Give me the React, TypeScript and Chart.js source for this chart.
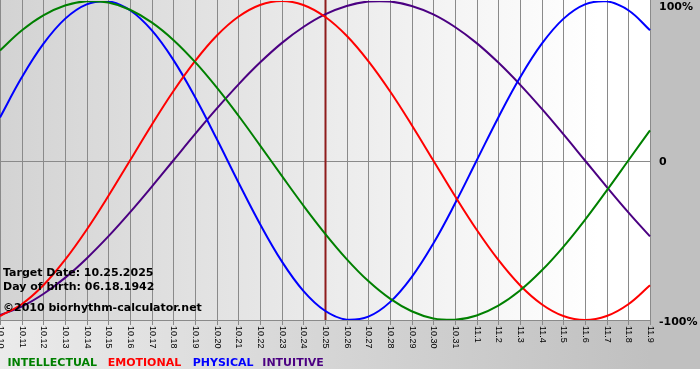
import { useEffect, useRef } from "react";
import { Chart, registerables } from "chart.js";

Chart.register(...registerables);

const dayLabels = [
  "10.10", "10.11", "10.12", "10.13", "10.14", "10.15", "10.16", "10.17", "10.18", "10.19",
  "10.20", "10.21", "10.22", "10.23", "10.24", "10.25", "10.26", "10.27", "10.28", "10.29",
  "10.30", "10.31", "11.1", "11.2", "11.3", "11.4", "11.5", "11.6", "11.7", "11.8", "11.9",
];

const intellectual = [
  69.0, 81.5, 91.0, 97.2, 99.9, 99.0, 94.5, 86.6, 75.6, 61.8, 45.8, 28.2, 9.5, -9.5, -28.2,
  -45.8, -61.8, -75.6, -86.6, -94.5, -99.0, -99.9, -97.2, -91.0, -81.5, -69.0, -54.1, -37.2,
  -18.9, 0, 18.9,
];
const emotional = [
  -97.5, -90.1, -78.2, -62.3, -43.4, -22.3, 0, 22.3, 43.4, 62.3, 78.2, 90.1, 97.5, 100, 97.5,
  90.1, 78.2, 62.3, 43.4, 22.3, 0, -22.3, -43.4, -62.3, -78.2, -90.1, -97.5, -100, -97.5,
  -90.1, -78.2,
];
const physical = [
  27.0, 52.0, 73.1, 88.8, 97.9, 99.8, 94.2, 81.7, 63.1, 39.8, 13.6, -13.6, -39.8, -63.1, -81.7,
  -94.2, -99.8, -97.9, -88.8, -73.1, -52.0, -27.0, 0, 27.0, 52.0, 73.1, 88.8, 97.9, 99.8, 94.2,
  81.7,
];
const intuitive = [
  -96.9, -91.6, -83.7, -73.6, -61.4, -47.6, -32.5, -16.5, 0, 16.5, 32.5, 47.6, 61.4, 73.6, 83.7,
  91.6, 96.9, 99.7, 99.7, 96.9, 91.6, 83.7, 73.6, 61.4, 47.6, 32.5, 16.5, 0, -16.5, -32.5, -47.6,
];

const seriesNames = ["INTELLECTUAL", "EMOTIONAL", "PHYSICAL", "INTUITIVE"];
const seriesColors = ["#008000", "#ff0000", "#0000ff", "#4b0082"];
const seriesData = [intellectual, emotional, physical, intuitive];

const targetLabel = "10.25";
const infoLines = [
  "Target Date: 10.25.2025",
  "Day of birth: 06.18.1942",
  "\u00a92010 biorhythm-calculator.net",
];
const yTickValues = [100, 0, -100];
const yTickLabels = ["100%", "0", "-100%"];

const W = 700;
const H = 380;
const BG_BOTTOM = 369;

const decorPlugin = {
  id: "decor",
  beforeDraw(chart: any) {
    const { ctx, chartArea } = chart;
    const { left, right, top, bottom } = chartArea;
    ctx.save();
    ctx.fillStyle = "#ffffff";
    ctx.fillRect(0, 0, W, H);
    const g = ctx.createLinearGradient(0, 0, W, 0);
    g.addColorStop(0, "#ebebeb");
    g.addColorStop(0.93, "#c0c0c0");
    g.addColorStop(1, "#c0c0c0");
    ctx.fillStyle = g;
    ctx.fillRect(0, 0, W, BG_BOTTOM);
    const pg = ctx.createLinearGradient(left, 0, right, 0);
    pg.addColorStop(0, "#d3d3d3");
    pg.addColorStop(0.92, "#ffffff");
    pg.addColorStop(1, "#ffffff");
    ctx.fillStyle = pg;
    ctx.fillRect(left, 0, right - left + 1, bottom);

    const xs = chart.scales.x;
    const ys = chart.scales.y;
    ctx.strokeStyle = "#8a8a8a";
    ctx.lineWidth = 1;
    for (let i = 0; i < dayLabels.length; i++) {
      const x = Math.round(xs.getPixelForValue(i)) + 0.5;
      ctx.beginPath();
      ctx.moveTo(x, 0);
      ctx.lineTo(x, bottom + 5);
      ctx.stroke();
    }
    const y0 = Math.round(ys.getPixelForValue(0)) + 0.5;
    ctx.beginPath();
    ctx.moveTo(left, y0);
    ctx.lineTo(right + 1, y0);
    ctx.stroke();
    const yb = Math.round(bottom) + 0.5;
    ctx.beginPath();
    ctx.moveTo(left, yb);
    ctx.lineTo(right + 1, yb);
    ctx.stroke();
    ctx.restore();
  },
  beforeDatasetsDraw(chart: any) {
    const { ctx, chartArea } = chart;
    const xs = chart.scales.x;
    const idx = dayLabels.indexOf(targetLabel);
    const x = Math.round(xs.getPixelForValue(idx)) + 0.5;
    ctx.save();
    ctx.strokeStyle = "#8e1c1c";
    ctx.lineWidth = 2;
    ctx.beginPath();
    ctx.moveTo(x, 0);
    ctx.lineTo(x, chartArea.bottom);
    ctx.stroke();
    ctx.restore();
  },
  afterDraw(chart: any) {
    const { ctx, chartArea } = chart;
    const xs = chart.scales.x;
    const ys = chart.scales.y;
    ctx.save();
    // rotated x labels
    ctx.fillStyle = "#000000";
    ctx.font = "9px 'Liberation Sans', Arial, sans-serif";
    ctx.textAlign = "left";
    ctx.textBaseline = "middle";
    for (let i = 0; i < dayLabels.length; i++) {
      const x = xs.getPixelForValue(i) + 0.5;
      ctx.save();
      ctx.translate(x, chartArea.bottom + 6);
      ctx.rotate(Math.PI / 2);
      ctx.fillText(dayLabels[i], 0, 0);
      ctx.restore();
    }
    // y labels
    ctx.font = "bold 11px 'DejaVu Sans', Verdana, sans-serif";
    ctx.textBaseline = "middle";
    const offs = [6, 2, 2.5];
    for (let i = 0; i < yTickValues.length; i++) {
      ctx.fillText(yTickLabels[i], chartArea.right + 9, ys.getPixelForValue(yTickValues[i]) + offs[i]);
    }
    // info text
    ctx.textBaseline = "alphabetic";
    const infoY = [276, 290, 311];
    infoLines.forEach((t, i) => ctx.fillText(t, 3, infoY[i]));
    // legend
    const legX = [7.5, 107.7, 192.7, 262.3];
    seriesNames.forEach((n, i) => {
      ctx.fillStyle = seriesColors[i];
      ctx.fillText(n, legX[i], 366);
    });
    ctx.restore();
  },
};

export default function App() {
  const ref = useRef<HTMLCanvasElement | null>(null);
  useEffect(() => {
    if (!ref.current) return;
    const chart = new Chart(ref.current, {
      type: "line",
      data: {
        labels: dayLabels,
        datasets: seriesData.map((d, i) => ({
          label: seriesNames[i],
          data: d,
          borderColor: seriesColors[i],
          borderWidth: 2,
          pointRadius: 0,
          tension: 0.4,
          fill: false,
        })),
      },
      options: {
        responsive: false,
        animation: false,
        devicePixelRatio: 1,
        layout: { padding: { left: 0, right: 50, top: 1, bottom: 60 } },
        plugins: { legend: { display: false }, tooltip: { enabled: false } },
        scales: {
          x: { type: "category", display: false, offset: false },
          y: { display: false, min: -100, max: 100 },
        },
      },
      plugins: [decorPlugin],
    });
    return () => chart.destroy();
  }, []);
  return (
    <div style={{ position: "absolute", left: 0, top: 0, width: W, height: H }}>
      <canvas ref={ref} width={W} height={H} style={{ width: W, height: H, display: "block" }} />
    </div>
  );
}
